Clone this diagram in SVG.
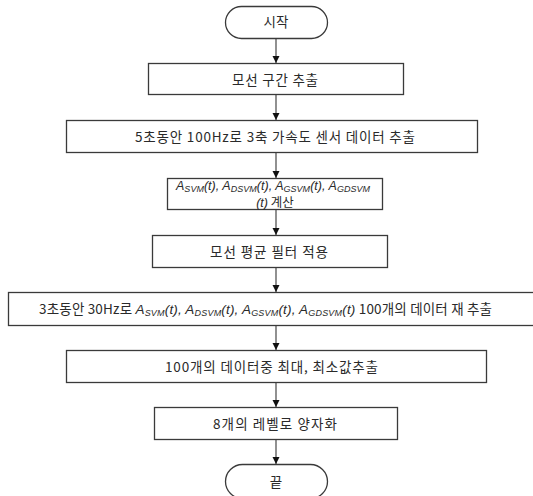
<svg xmlns="http://www.w3.org/2000/svg" width="533" height="496" viewBox="0 0 533 496">
<style>
.box{fill:#fff;stroke:#3a3a3a;stroke-width:1.3}
.t{font-family:"Noto Sans CJK KR","Malgun Gothic",sans-serif;font-size:13.5px;fill:#2a2a2a;text-anchor:middle}
.m{font-size:12.5px}
.i{font-family:"Liberation Sans","Noto Sans",sans-serif;font-style:italic}
.s{font-size:9px}
.c{stroke:#555;stroke-width:1.3;fill:none}
</style>
<defs>
<marker id="ah" markerWidth="8" markerHeight="8" refX="7" refY="4" orient="auto" markerUnits="userSpaceOnUse">
<path d="M0,0.5 L7,4 L0,7.5 Z" fill="#111"/>
</marker>
</defs>
<rect width="533" height="496" fill="#fff"/>
<g id="connectors">
<line class="c" x1="276" y1="38" x2="276" y2="63" marker-end="url(#ah)"/>
<line class="c" x1="276" y1="94" x2="276" y2="120" marker-end="url(#ah)"/>
<line class="c" x1="276" y1="152" x2="276" y2="178" marker-end="url(#ah)"/>
<line class="c" x1="276" y1="209" x2="276" y2="235" marker-end="url(#ah)"/>
<line class="c" x1="276" y1="267" x2="276" y2="292" marker-end="url(#ah)"/>
<line class="c" x1="276" y1="325" x2="276" y2="350" marker-end="url(#ah)"/>
<line class="c" x1="276" y1="382" x2="276" y2="407" marker-end="url(#ah)"/>
<line class="c" x1="276" y1="439" x2="276" y2="464" marker-end="url(#ah)"/>
</g>
<g id="start">
<rect class="box" x="225.5" y="6.5" width="102" height="32" rx="16"/>
<text class="t" x="276" y="27">시작</text>
</g>
<g id="n1">
<rect class="box" x="148.5" y="63.5" width="255" height="31"/>
<text class="t" x="275" y="85" textLength="86" lengthAdjust="spacing">모선 구간 추출</text>
</g>
<g id="n2">
<rect class="box" x="66.5" y="120.5" width="411" height="32"/>
<text class="t" x="275" y="142" textLength="280" lengthAdjust="spacing">5초동안 100Hz로 3축 가속도 센서 데이터 추출</text>
</g>
<g id="n3">
<rect class="box" x="167.5" y="178.5" width="215" height="31"/>
<text class="t m" x="273" y="190" textLength="194" lengthAdjust="spacing"><tspan class="i">A</tspan><tspan class="i s" dy="1.5">SVM</tspan><tspan class="i" dy="-1.5">(t), A</tspan><tspan class="i s" dy="1.5">DSVM</tspan><tspan class="i" dy="-1.5">(t), A</tspan><tspan class="i s" dy="1.5">GSVM</tspan><tspan class="i" dy="-1.5">(t), A</tspan><tspan class="i s" dy="1.5">GDSVM</tspan></text>
<text class="t m" x="275" y="206.5"><tspan class="i">(t)</tspan> 계산</text>
</g>
<g id="n4">
<rect class="box" x="152.5" y="235.5" width="235" height="32"/>
<text class="t" x="269" y="257" textLength="118" lengthAdjust="spacing">모선 평균 필터 적용</text>
</g>
<g id="n5">
<rect class="box" x="8.5" y="292.5" width="536" height="33"/>
<text class="t" x="265.5" y="314" textLength="453" lengthAdjust="spacing">3초동안 30Hz로 <tspan class="i">A</tspan><tspan class="i s" dy="2">SVM</tspan><tspan class="i" dy="-2">(t), A</tspan><tspan class="i s" dy="2">DSVM</tspan><tspan class="i" dy="-2">(t), A</tspan><tspan class="i s" dy="2">GSVM</tspan><tspan class="i" dy="-2">(t), A</tspan><tspan class="i s" dy="2">GDSVM</tspan><tspan class="i" dy="-2">(t)</tspan> 100개의 데이터 재 추출</text>
</g>
<g id="n6">
<rect class="box" x="66.5" y="350.5" width="420" height="32"/>
<text class="t" x="271.5" y="372" textLength="213" lengthAdjust="spacing">100개의 데이터중 최대, 최소값추출</text>
</g>
<g id="n7">
<rect class="box" x="154.5" y="407.5" width="243" height="32"/>
<text class="t" x="275" y="429" textLength="124" lengthAdjust="spacing">8개의 레벨로 양자화</text>
</g>
<g id="end">
<rect class="box" x="225.5" y="464.5" width="102" height="34" rx="17"/>
<text class="t" x="276" y="487">끝</text>
</g>
</svg>
